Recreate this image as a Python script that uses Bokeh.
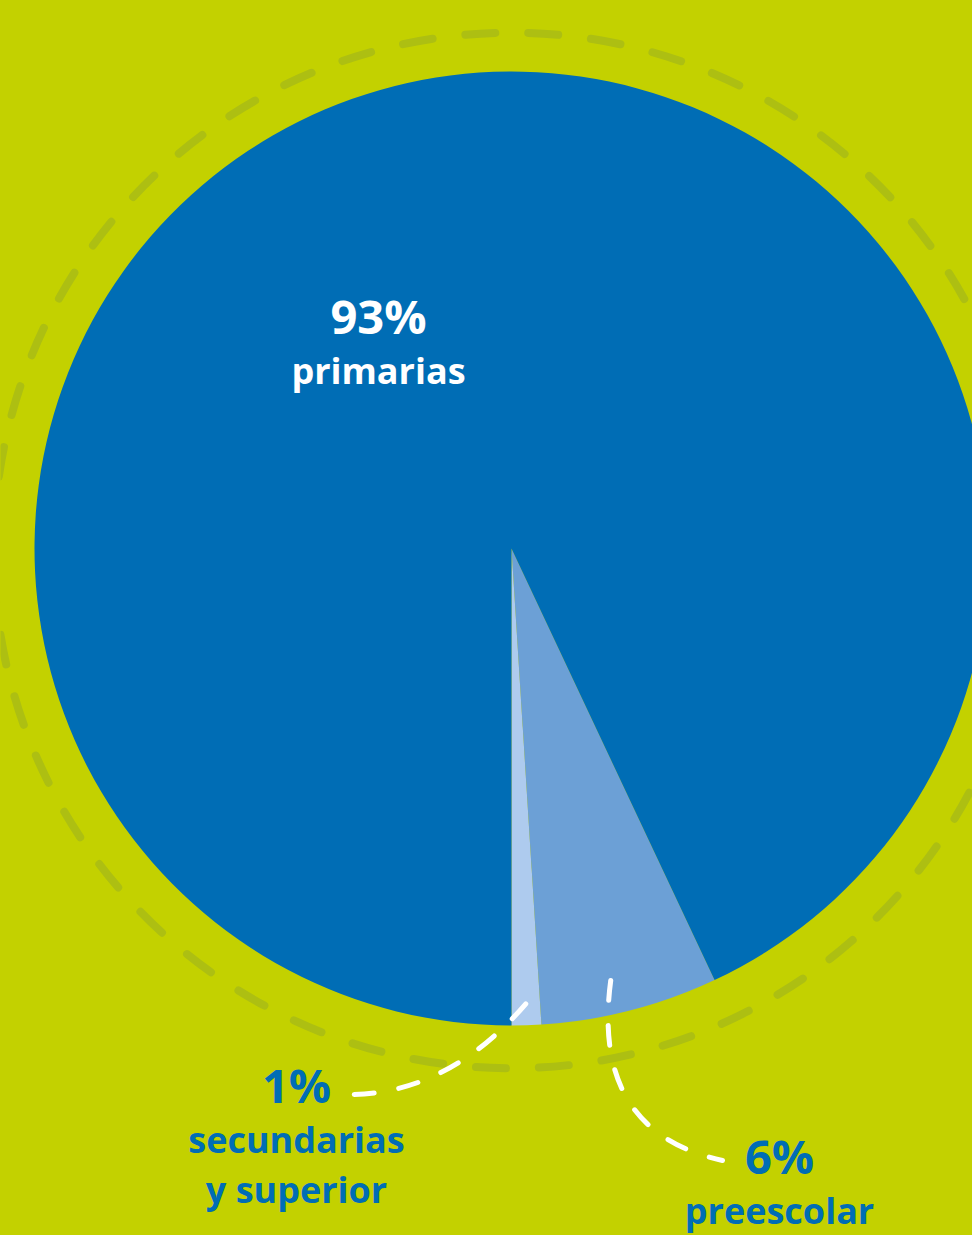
import math
from bokeh.plotting import figure
from bokeh.models import ColumnDataSource, Range1d
from bokeh.core.properties import value
from bokeh.embed import file_html
from bokeh.resources import INLINE

# ---- data ----
categories = ["secundarias y superior", "preescolar", "primarias"]
shares = [1, 6, 93]
pct_labels = ["1%", "6%", "93%"]
name_labels = [["secundarias", "y superior"], ["preescolar"], ["primarias"]]
colors = ["#AECBEE", "#6CA0D6", "#006DB5"]

BG = "#C3D100"
RING = "#ADBF12"
TEXT_BLUE = "#006DB5"

# layout (pixel units, origin = pie centre, y up)
W, H = 972, 1235
CX_PX, CY_PX = 511, 548
R = 477

p = figure(width=W, height=H, output_backend="svg", toolbar_location=None,
           x_range=Range1d(-CX_PX, W - CX_PX),
           y_range=Range1d(CY_PX - H, CY_PX),
           min_border=0, outline_line_color=None,
           background_fill_color=BG, border_fill_color=BG)
p.axis.visible = False
p.grid.visible = False

# wedges, starting at 6 o'clock going anticlockwise
total = sum(shares)
starts, ends, mids = [], [], []
a = -math.pi / 2
for s in shares:
    da = 2 * math.pi * s / total
    starts.append(a)
    ends.append(a + da)
    mids.append(a + da / 2)
    a += da

src = ColumnDataSource(dict(cat=categories, start=starts, end=ends, color=colors))

# dashed ring
p.circle(x=0, y=-2, radius=518, fill_color=None, line_color=RING,
         line_width=8, line_dash="30 33", line_cap="round")

p.wedge(x=0, y=0, radius=R, start_angle="start", end_angle="end",
        direction="anticlock", fill_color="color", line_color=None, source=src)

# leader lines (quadratic curves) from slices to labels
font = value("Open Sans")
# secundarias
sx0 = 0.955 * R * math.cos(mids[0]); sy0 = 0.955 * R * math.sin(mids[0])
p.quadratic(x0=[sx0], y0=[sy0], x1=[348 - CX_PX], y1=[CY_PX - 1094],
            cx=[447 - CX_PX], cy=[CY_PX - 1094],
            line_color="white", line_width=5, line_dash="20 25", line_cap="round")
# preescolar
ang = mids[1] - math.radians(1.4)
px0 = 0.925 * R * math.cos(ang); py0 = 0.925 * R * math.sin(ang)
p.quadratic(x0=[px0], y0=[py0 - 2], x1=[722 - CX_PX], y1=[CY_PX - 1160],
            cx=[590 - CX_PX], cy=[CY_PX - 1131],
            line_color="white", line_width=5, line_dash="20 25", line_cap="round")

# labels: (centre x px, baseline y px of percentage, colour)
label_pos = [(296, 1084, TEXT_BLUE), (779, 1155, TEXT_BLUE), (378, 315, "white")]
line_gap = 50
first_gap = 55
for (lx, ly, col), pct, names in zip(label_pos, pct_labels, name_labels):
    p.text(x=[lx - CX_PX], y=[CY_PX - ly], text=[pct], text_font=font,
           text_font_style="bold", text_font_size="47px", text_color=col,
           text_align="center", text_baseline="alphabetic")
    for i, nm in enumerate(names):
        p.text(x=[lx - CX_PX], y=[CY_PX - (ly + first_gap + i * line_gap)], text=[nm],
               text_font=font, text_font_style="bold", text_font_size="36px",
               text_color=col, text_align="center", text_baseline="alphabetic")

html = file_html(p, INLINE)
html = html.replace("<head>", "<head><style>html,body{margin:0;padding:0;overflow:hidden;background:%s;}</style>" % BG, 1)
open("out.html", "w").write(html)
